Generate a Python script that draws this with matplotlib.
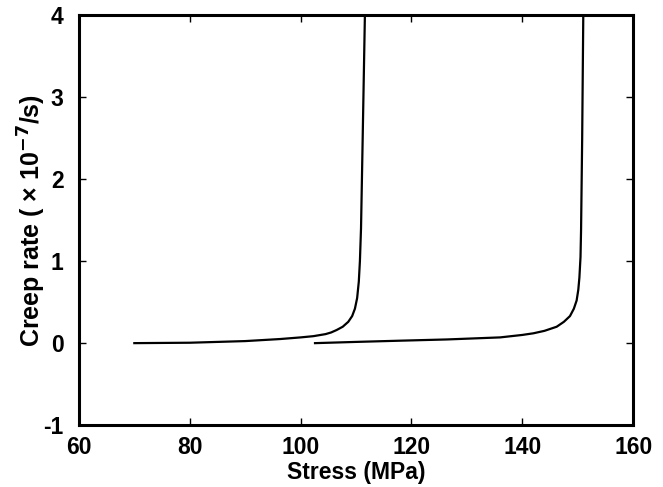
#!/usr/bin/env python3
"""Creep rate vs. stress: two stress-ramp curves."""
import matplotlib

matplotlib.use("Agg")
import matplotlib.pyplot as plt

# curve 1 (lower stress branch)
stress_a = [70, 80, 90, 96.3, 100, 102.3, 104.5, 105.5, 106.5, 107.6, 108.6, 109.3,
            109.8, 110.2, 110.5, 110.7, 110.9, 111.2, 111.6]
rate_a = [0.0, 0.005, 0.025, 0.05, 0.07, 0.085, 0.11, 0.13, 0.16, 0.2, 0.26, 0.33,
          0.42, 0.55, 0.75, 1.0, 1.4, 2.5, 4.0]

# curve 2 (higher stress branch)
stress_b = [102.6, 110, 118, 126.4, 136, 140, 142, 144, 146.2, 147.5, 148.6, 149.3,
            149.8, 150.1, 150.3, 150.5, 150.6, 150.8, 151.0]
rate_b = [0.0, 0.015, 0.03, 0.045, 0.07, 0.1, 0.12, 0.15, 0.2, 0.26, 0.33, 0.42,
          0.52, 0.65, 0.8, 1.05, 1.38, 2.5, 4.0]

xticks = [60, 80, 100, 120, 140, 160]
yticks = [-1, 0, 1, 2, 3, 4]

plt.rcParams["font.family"] = ["Liberation Sans", "DejaVu Sans"]
plt.rcParams["font.weight"] = "bold"
plt.rcParams["axes.unicode_minus"] = False
plt.rcParams["mathtext.default"] = "bf"

fig = plt.figure(figsize=(6.63, 4.87), dpi=100)
ax = fig.add_axes([0.119, 0.127, 0.836, 0.842])

ax.plot(stress_a, rate_a, color="black", lw=1.6)
ax.plot(stress_b, rate_b, color="black", lw=1.6)

ax.set_xlim(60, 160)
ax.set_ylim(-1, 4)
ax.set_xticks(xticks)
ax.set_yticks(yticks)
ax.tick_params(direction="in", length=5, width=1, top=True, right=True,
               labelsize=16.5)
ax.tick_params(axis="y", pad=11)
ax.tick_params(axis="x", pad=8)
for lab in ax.get_xticklabels() + ax.get_yticklabels():
    lab.set_fontweight("bold")
for sp in ax.spines.values():
    sp.set_linewidth(2.2)

ax.set_xlabel("Stress (MPa)", fontsize=16.5, fontweight="bold", labelpad=1)
ax.set_ylabel("Creep rate ( \u00d7 10$^{-7}$/s)", fontsize=18,
              fontweight="bold", labelpad=-3)

fig.savefig("out.png", dpi=100, facecolor="white")
